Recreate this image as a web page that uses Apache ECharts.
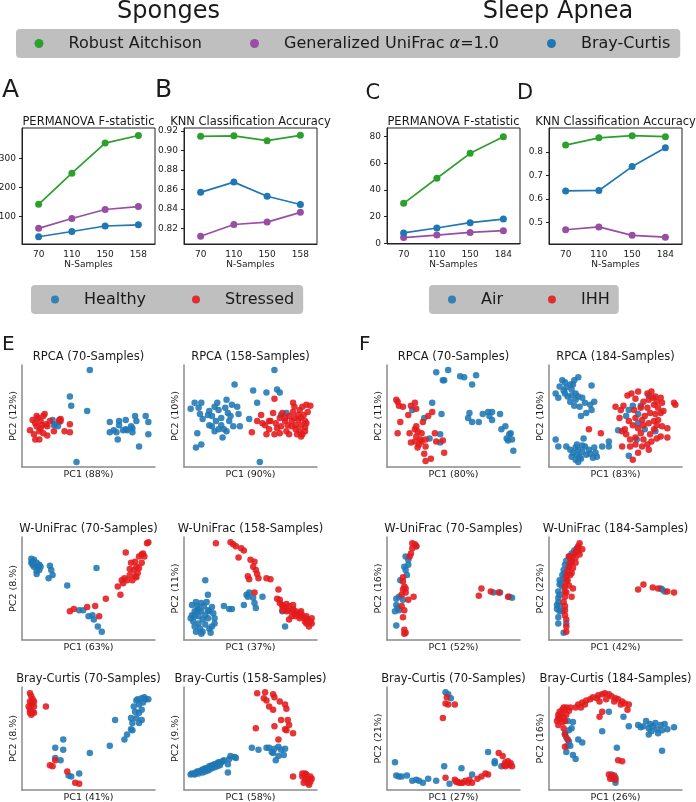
<!DOCTYPE html>
<html>
<head>
<meta charset="utf-8">
<title>Sponges / Sleep Apnea - RPCA comparison</title>
<script src="https://cdn.jsdelivr.net/npm/echarts@6.0.0/dist/echarts.min.js"></script>
<style>
  html, body { margin: 0; padding: 0; background: #fff; }
  #chart { width: 696px; height: 802px; }
</style>
</head>
<body>
<div id="chart"></div>
<script>
// ------------------------------
// Data
// ------------------------------

var metricNames = ["Robust Aitchison", "Generalized UniFrac α=1.0", "Bray-Curtis"];

// Sponges (A, B)
var nSponges = ["70", "110", "150", "158"];
var permSpongesRA = [143, 250, 354, 380];
var permSpongesGU = [60, 94, 125, 135];
var permSpongesBC = [31, 49, 68, 72];
var knnSpongesRA = [0.9145, 0.915, 0.910, 0.9155];
var knnSpongesGU = [0.812, 0.824, 0.8265, 0.8365];
var knnSpongesBC = [0.857, 0.8675, 0.853, 0.8445];

// Sleep apnea (C, D)
var nApnea = ["70", "110", "150", "184"];
var permApneaRA = [30, 48.8, 67.5, 80];
var permApneaGU = [4.3, 6.2, 8.2, 9.5];
var permApneaBC = [7.8, 11.5, 15.5, 18.2];
var knnApneaRA = [0.83, 0.861, 0.87, 0.866];
var knnApneaGU = [0.468, 0.48, 0.444, 0.436];
var knnApneaBC = [0.634, 0.636, 0.738, 0.819];

// tick labels
var permSpongesTicks = [100, 200, 300];
var knnSpongesTicks = [0.82, 0.84, 0.86, 0.88, 0.90, 0.92];
var permApneaTicks = [0, 20, 40, 60, 80];
var knnApneaTicks = [0.5, 0.6, 0.7, 0.8];

// ordination scores (arbitrary units)
var spRpca70Healthy = [[51,95],[36,69],[37,60],[49,55],[41,5],[23,46],[25,42],[24,41],[27,40],[28,44],[66,44],[73,45],[78,46],[85,50],[93,50],[95,44],[66,34],[71,34],[72,27],[76,36],[78,37],[82,40],[83,38],[83,34],[86,45],[88,20],[95,32],[73,41],[79,36],[69,36]];
var spRpca70Stressed = [[6,36],[8,46],[10,43],[10,27],[11,40],[12,48],[13,35],[13,27],[14,45],[14,38],[15,41],[16,50],[16,33],[17,52],[18,42],[19,31],[19,40],[21,45],[24,35],[28,46],[29,45],[32,35],[36,42],[36,34],[9,32],[11,50],[29,47]];

var spRpca158Healthy = [[68,95],[38,81],[52,75],[62,73],[70,76],[72,73],[55,63],[49,47],[5,57],[8,63],[13,63],[11,58],[12,52],[14,47],[10,33],[9,19],[13,22],[18,51],[19,55],[21,40],[23,59],[25,63],[26,56],[28,48],[29,29],[30,37],[32,66],[33,53],[34,45],[37,40],[41,52],[42,40],[36,61],[24,45],[21,50],[31,58],[40,59],[26,37],[19,41],[23,35],[32,35],[35,50],[28,41],[57,5],[77,53],[73,51]];
var spRpca158Stressed = [[51,34],[58,51],[61,41],[62,32],[64,37],[65,45],[67,53],[68,67],[69,43],[70,38],[72,48],[73,40],[74,53],[76,45],[77,35],[78,41],[79,50],[81,40],[82,63],[82,54],[83,48],[84,37],[85,32],[86,46],[87,56],[88,41],[89,32],[89,59],[90,51],[91,45],[91,39],[92,61],[93,54],[95,60],[91,35],[87,35],[68,32],[72,33],[64,45],[76,48],[81,45],[86,51],[88,48],[84,41],[92,43],[79,32],[88,30],[83,59],[55,45],[59,43]];

var apRpca70Air = [[37,93],[46,95],[42,85],[43,85],[55,89],[58,88],[67,90],[64,81],[34,63],[19,56],[41,52],[28,48],[32,28],[40,32],[40,24],[62,53],[61,48],[64,44],[69,44],[72,52],[76,54],[79,54],[77,50],[79,46],[85,52],[86,37],[89,40],[92,32],[94,27],[95,16],[90,28],[91,26],[93,33]];
var apRpca70Ihh = [[7,66],[8,64],[9,60],[12,59],[16,51],[18,60],[21,63],[22,57],[34,54],[10,44],[31,50],[8,33],[17,33],[18,24],[21,37],[22,30],[23,35],[24,22],[25,27],[26,33],[23,19],[29,27],[29,20],[28,13],[29,6],[33,8],[36,33],[37,25],[42,26],[43,14],[21,25],[26,25],[22,40],[27,44]];

var apRpca184Air = [[22,88],[19,85],[10,85],[12,83],[16,81],[18,81],[8,79],[13,78],[17,76],[20,72],[12,72],[5,72],[7,68],[14,69],[17,70],[22,69],[25,68],[20,66],[16,64],[19,60],[23,59],[27,63],[32,80],[34,64],[31,61],[32,56],[28,53],[24,50],[11,75],[5,27],[7,20],[13,20],[16,17],[17,10],[20,7],[22,5],[23,10],[25,15],[26,28],[27,20],[28,12],[30,17],[33,9],[34,19],[35,14],[40,20],[21,22],[18,14],[22,17],[25,21],[21,12],[24,8],[20,19],[31,13],[36,10],[45,25],[45,20],[52,36],[58,50],[63,60],[69,60],[75,70],[67,43],[66,27],[72,37],[80,35],[60,11],[67,52],[60,56]];
var apRpca184Ihh = [[30,37],[39,33],[50,59],[54,56],[56,60],[59,70],[62,72],[67,74],[65,67],[69,58],[71,64],[74,72],[75,66],[77,74],[78,68],[79,61],[80,69],[81,64],[82,58],[84,68],[85,63],[84,53],[86,55],[82,46],[81,41],[85,40],[79,37],[75,43],[72,50],[70,46],[65,48],[63,41],[60,45],[57,37],[58,32],[61,27],[55,20],[61,20],[65,22],[69,33],[71,27],[74,22],[76,32],[77,25],[81,28],[84,30],[89,29],[89,38],[94,63],[95,61],[63,7],[67,14],[55,35],[71,41],[74,58],[80,52],[76,53],[64,56],[67,38],[79,45],[75,17],[53,48],[70,20],[65,29]];

var spUni70Healthy = [[7,79],[8,76],[9,78],[11,75],[12,71],[11,67],[9,71],[13,68],[13,73],[8,73],[11,64],[21,72],[22,68],[23,63],[20,60],[34,53],[56,70],[43,29],[46,29],[50,23],[53,24],[54,20],[57,13],[60,8],[14,71],[7,75]];
var spUni70Stressed = [[36,28],[39,30],[49,32],[55,33],[58,23],[63,40],[72,52],[74,44],[75,58],[77,60],[78,85],[79,58],[81,63],[82,75],[83,58],[84,68],[85,62],[85,76],[86,71],[87,65],[88,81],[88,70],[90,75],[90,83],[91,84],[92,81],[94,94],[95,95],[76,55],[81,69],[86,61]];

var spUni158Healthy = [[16,58],[18,44],[6,34],[8,28],[9,37],[10,33],[11,23],[11,16],[12,11],[13,36],[13,28],[14,20],[14,8],[15,33],[16,24],[16,15],[17,37],[18,29],[18,21],[19,11],[20,7],[21,32],[22,26],[23,16],[23,21],[6,24],[7,18],[8,13],[9,8],[10,28],[8,23],[11,30],[19,28],[21,13],[13,6],[5,21],[30,33],[34,30],[36,30],[45,34],[47,44],[48,42],[52,41],[53,36],[54,31],[59,42],[49,46],[76,13],[74,28]];
var spUni158Stressed = [[24,94],[35,95],[37,93],[39,91],[43,89],[41,80],[45,87],[50,78],[53,76],[52,71],[54,68],[48,62],[49,59],[55,64],[56,60],[62,60],[65,59],[53,46],[71,49],[70,40],[72,36],[74,34],[74,33],[76,31],[77,35],[78,29],[79,33],[81,28],[82,30],[83,26],[84,28],[86,24],[87,26],[88,23],[89,24],[91,21],[92,23],[93,20],[95,18],[96,16],[94,13],[91,18],[87,21],[84,23],[81,23],[79,20],[88,28],[77,28],[74,29],[82,34],[92,16],[96,21],[72,39]];

var apUni70Air = [[22,91],[14,81],[16,78],[13,71],[14,68],[15,63],[10,58],[9,42],[7,40],[7,34],[8,31],[6,28],[9,29],[7,14],[80,46],[85,46],[92,42],[94,41],[16,73],[12,39]];
var apUni70Ihh = [[19,94],[21,93],[22,91],[19,89],[18,84],[17,81],[12,61],[13,52],[12,49],[14,50],[11,44],[16,39],[20,42],[11,33],[13,29],[12,22],[13,10],[14,7],[13,6],[71,50],[69,43],[78,47],[84,46],[91,42],[14,46],[12,57]];

var apUni184Air = [[11,7],[7,16],[7,22],[8,28],[6,34],[7,41],[7,47],[8,54],[8,58],[10,63],[11,68],[12,73],[13,77],[15,81],[17,84],[19,87],[21,89],[7,37],[8,44],[10,52],[11,60],[9,55],[12,65],[6,30],[8,33],[15,71],[17,78],[85,49],[87,47],[84,50],[13,16],[10,28]];
var apUni184Ihh = [[23,94],[22,91],[21,88],[20,85],[18,82],[17,76],[16,75],[15,71],[14,67],[13,62],[13,57],[12,52],[12,47],[12,42],[11,37],[12,33],[12,24],[13,20],[13,8],[15,53],[18,50],[17,42],[14,58],[16,63],[20,80],[22,86],[13,46],[12,29],[67,49],[71,54],[78,51],[82,50],[89,47],[94,46],[16,81],[13,13],[25,88],[23,83],[20,75],[18,70],[17,65],[15,81]];

var spBc70Healthy = [[31,49],[25,41],[31,39],[25,31],[29,29],[35,14],[37,13],[43,16],[51,36],[66,43],[70,68],[77,49],[79,54],[82,59],[83,65],[82,70],[86,70],[88,75],[85,76],[90,78],[84,81],[88,83],[86,87],[87,88],[90,89],[92,90],[93,88],[95,88],[91,85],[88,65],[90,68],[83,58]];
var spBc70Stressed = [[6,94],[7,91],[8,88],[6,86],[8,84],[7,83],[5,81],[9,81],[6,78],[8,76],[9,75],[6,75],[7,73],[9,86],[18,81],[21,24],[23,23],[25,29],[34,18],[40,7],[43,6]];

var spBc158Healthy = [[51,41],[56,39],[62,41],[64,41],[66,37],[67,36],[71,42],[73,39],[76,40],[68,40],[75,34],[69,29],[71,33],[5,15],[6,16],[8,16],[9,17],[10,18],[11,18],[13,19],[14,20],[15,20],[16,21],[18,21],[19,23],[20,23],[21,24],[23,25],[24,25],[25,26],[26,27],[28,27],[29,28],[30,29],[34,30],[35,33],[38,32],[39,31],[33,17],[33,25],[11,16],[14,17],[16,18],[19,20],[23,22],[8,15],[21,21],[27,24],[18,19],[25,23]];
var spBc158Stressed = [[55,94],[61,95],[67,93],[68,90],[60,89],[62,87],[72,86],[76,83],[64,81],[67,78],[77,79],[73,68],[78,68],[68,62],[54,60],[76,59],[77,58],[82,55],[79,63],[71,49],[82,13],[89,16],[89,13],[91,10],[92,15],[93,11],[95,8],[93,7],[95,13],[91,16],[96,11],[94,5],[90,7]];

var apBc70Air = [[44,95],[46,93],[48,89],[6,27],[7,14],[9,13],[11,13],[15,14],[19,9],[22,10],[24,9],[27,7],[31,11],[37,9],[43,23],[47,6],[56,21],[64,15],[76,37],[81,26],[86,23],[81,28]];
var apBc70Ihh = [[45,90],[44,84],[46,83],[51,83],[42,70],[44,12],[51,10],[53,8],[54,7],[57,7],[59,9],[61,7],[62,10],[64,7],[68,11],[71,13],[74,16],[76,15],[84,36],[87,33],[89,27],[91,25],[92,24],[93,26],[89,23],[91,28],[94,23],[88,24],[56,7],[52,8]];

var apBc184Air = [[14,67],[18,66],[17,60],[15,58],[13,51],[15,47],[16,43],[14,43],[13,37],[18,34],[20,30],[22,49],[25,46],[40,57],[45,76],[51,41],[56,71],[60,62],[67,63],[69,61],[71,62],[73,67],[75,60],[76,64],[77,57],[78,62],[80,65],[81,59],[82,55],[84,63],[85,58],[87,64],[89,59],[94,61],[85,38],[75,54],[47,15],[48,11],[50,7],[50,12],[12,55]];
var apBc184Ihh = [[6,67],[7,70],[7,73],[8,76],[10,78],[11,80],[12,78],[13,80],[15,77],[16,80],[9,73],[11,71],[13,73],[8,69],[7,63],[10,66],[12,67],[11,60],[12,54],[12,42],[14,49],[20,80],[22,83],[25,85],[28,87],[31,88],[33,90],[36,89],[37,92],[40,93],[42,94],[45,93],[47,91],[50,89],[52,88],[55,86],[57,84],[60,83],[38,86],[43,88],[49,86],[54,83],[59,78],[40,76],[38,71],[24,80],[27,83],[55,28],[52,29],[45,15],[47,13],[49,14],[50,10],[46,11]];

// ------------------------------
// Setup
// ------------------------------

var FONT = "DejaVu Sans";
var GREEN = "#2ca02c";
var PURPLE = "#984ea3";
var BLUE = "#1f77b4";
var RED = "#e41a1c";
var TEXT = "#1a1a1a";

var colLeft = [22, 184, 387, 549];
var colWidth = 133;
var rowTop = [365, 537, 687];
var rowHeight = [102, 103, 103];

var titles = [];
var grids = [];
var xAxes = [];
var yAxes = [];
var series = [];

function addText(text, x, y, size, align) {
  titles.push({
    text: text,
    left: x,
    top: y,
    padding: 0,
    textAlign: align || "center",
    textVerticalAlign: "top",
    textStyle: { fontFamily: FONT, fontSize: size, fontWeight: "normal", color: TEXT, lineHeight: size }
  });
}

// line panels A-D
function addLinePanel(col, title, cats, yMin, yMax, ticks, digits, values) {
  var idx = grids.length;
  grids.push({ left: colLeft[col], top: 128, width: colWidth, height: 116, show: true, borderColor: "#222", borderWidth: 1, outerBoundsMode: "none" });
  xAxes.push({
    gridIndex: idx, type: "category", data: cats, boundaryGap: true,
    name: "N-Samples", nameLocation: "middle", nameGap: 16,
    nameTextStyle: { fontFamily: FONT, fontSize: 9, color: TEXT },
    axisLine: { lineStyle: { color: "#222", width: 1 } },
    axisTick: { alignWithLabel: true, length: 3, lineStyle: { color: "#222" } },
    axisLabel: { interval: 0, margin: 6, fontFamily: FONT, fontSize: 9, color: TEXT },
    splitLine: { show: false }
  });
  yAxes.push({
    gridIndex: idx, type: "value", min: yMin, max: yMax,
    axisLine: { show: true, lineStyle: { color: "#222", width: 1 } },
    axisTick: { show: true, length: 3, customValues: ticks, lineStyle: { color: "#222" } },
    axisLabel: {
      customValues: ticks, margin: 6, fontFamily: FONT, fontSize: 9, color: TEXT,
      formatter: function (v) { return v.toFixed(digits); }
    },
    splitLine: { show: false }
  });
  addText(title, colLeft[col] + colWidth / 2, 116, 11.5);
  var colors = [GREEN, PURPLE, BLUE];
  for (var m = 0; m < 3; m++) {
    series.push({
      type: "line", name: metricNames[m], xAxisIndex: idx, yAxisIndex: idx,
      data: values[m], color: colors[m],
      symbol: "circle", symbolSize: 7, showSymbol: true,
      lineStyle: { width: 1.7, color: colors[m] },
      itemStyle: { color: colors[m] }
    });
  }
}

addLinePanel(0, "PERMANOVA F-statistic", nSponges, 6, 406, permSpongesTicks, 0, [permSpongesRA, permSpongesGU, permSpongesBC]);
addLinePanel(1, "KNN Classification Accuracy", nSponges, 0.804, 0.923, knnSpongesTicks, 2, [knnSpongesRA, knnSpongesGU, knnSpongesBC]);
addLinePanel(2, "PERMANOVA F-statistic", nApnea, -0.5, 86.5, permApneaTicks, 0, [permApneaRA, permApneaGU, permApneaBC]);
addLinePanel(3, "KNN Classification Accuracy", nApnea, 0.407, 0.903, knnApneaTicks, 1, [knnApneaRA, knnApneaGU, knnApneaBC]);

// scatter panels E, F
var scatterPanels = [
  { row: 0, col: 0, title: "RPCA (70-Samples)", pc1: "PC1 (88%)", pc2: "PC2 (12%)", names: ["Healthy", "Stressed"], a: spRpca70Healthy, b: spRpca70Stressed },
  { row: 0, col: 1, title: "RPCA (158-Samples)", pc1: "PC1 (90%)", pc2: "PC2 (10%)", names: ["Healthy", "Stressed"], a: spRpca158Healthy, b: spRpca158Stressed },
  { row: 0, col: 2, title: "RPCA (70-Samples)", pc1: "PC1 (80%)", pc2: "PC2 (11%)", names: ["Air", "IHH"], a: apRpca70Air, b: apRpca70Ihh },
  { row: 0, col: 3, title: "RPCA (184-Samples)", pc1: "PC1 (83%)", pc2: "PC2 (10%)", names: ["Air", "IHH"], a: apRpca184Air, b: apRpca184Ihh },
  { row: 1, col: 0, title: "W-UniFrac (70-Samples)", pc1: "PC1 (63%)", pc2: "PC2 (8.%)", names: ["Healthy", "Stressed"], a: spUni70Healthy, b: spUni70Stressed },
  { row: 1, col: 1, title: "W-UniFrac (158-Samples)", pc1: "PC1 (37%)", pc2: "PC2 (11%)", names: ["Healthy", "Stressed"], a: spUni158Healthy, b: spUni158Stressed },
  { row: 1, col: 2, title: "W-UniFrac (70-Samples)", pc1: "PC1 (52%)", pc2: "PC2 (16%)", names: ["Air", "IHH"], a: apUni70Air, b: apUni70Ihh },
  { row: 1, col: 3, title: "W-UniFrac (184-Samples)", pc1: "PC1 (42%)", pc2: "PC2 (22%)", names: ["Air", "IHH"], a: apUni184Air, b: apUni184Ihh },
  { row: 2, col: 0, title: "Bray-Curtis (70-Samples)", pc1: "PC1 (41%)", pc2: "PC2 (8.%)", names: ["Healthy", "Stressed"], a: spBc70Healthy, b: spBc70Stressed },
  { row: 2, col: 1, title: "Bray-Curtis (158-Samples)", pc1: "PC1 (58%)", pc2: "PC2 (9.%)", names: ["Healthy", "Stressed"], a: spBc158Healthy, b: spBc158Stressed },
  { row: 2, col: 2, title: "Bray-Curtis (70-Samples)", pc1: "PC1 (27%)", pc2: "PC2 (21%)", names: ["Air", "IHH"], a: apBc70Air, b: apBc70Ihh },
  { row: 2, col: 3, title: "Bray-Curtis (184-Samples)", pc1: "PC1 (26%)", pc2: "PC2 (16%)", names: ["Air", "IHH"], a: apBc184Air, b: apBc184Ihh }
];

var titleTop = [351, 523.5, 673];

scatterPanels.forEach(function (p) {
  var idx = grids.length;
  grids.push({ left: colLeft[p.col], top: rowTop[p.row], width: colWidth, height: rowHeight[p.row], outerBoundsMode: "none" });
  var spine = { show: true, onZero: false, lineStyle: { color: "#8a8a8a", width: 1.5 } };
  var nameStyle = { fontFamily: FONT, fontSize: 9.5, color: TEXT };
  xAxes.push({
    gridIndex: idx, type: "value", min: 0, max: 100,
    name: p.pc1, nameLocation: "middle", nameGap: 3, nameTextStyle: nameStyle,
    axisLine: spine, axisTick: { show: false }, axisLabel: { show: false }, splitLine: { show: false }
  });
  yAxes.push({
    gridIndex: idx, type: "value", min: 0, max: 100,
    name: p.pc2, nameLocation: "middle", nameGap: 3, nameTextStyle: nameStyle,
    axisLine: spine, axisTick: { show: false }, axisLabel: { show: false }, splitLine: { show: false }
  });
  addText(p.title, colLeft[p.col] + colWidth / 2, titleTop[p.row], 11.5);
  [[p.names[0], p.a, BLUE], [p.names[1], p.b, RED]].forEach(function (s) {
    series.push({
      type: "scatter", name: s[0], xAxisIndex: idx, yAxisIndex: idx,
      data: s[1], symbolSize: 6.5, color: s[2],
      itemStyle: { color: s[2], opacity: 0.88 }
    });
  });
});

// headings and panel letters
addText("Sponges", 168.5, 0, 24);
addText("Sleep Apnea", 558, 0, 24);
addText("A", 2, 78, 25, "left");
addText("B", 155, 78, 25, "left");
addText("C", 365.5, 83.5, 21, "left");
addText("D", 517, 83.5, 21, "left");
addText("E", 2, 335, 20, "left");
addText("F", 359, 335, 20, "left");

function legendBox(data, left, top, gap, pad, size) {
  return {
    data: data, left: left, top: top, orient: "horizontal",
    icon: "circle", itemWidth: size, itemHeight: size, itemGap: gap,
    padding: pad, backgroundColor: "#bfbfbf", borderRadius: 4,
    selectedMode: false,
    formatter: function (name) { return name.replace("α", "{a|α}"); },
    textStyle: {
      fontFamily: FONT, fontSize: 16, color: TEXT, lineHeight: 17, padding: [0, 0, 0, 20],
      rich: { a: { fontFamily: FONT, fontSize: 16, fontStyle: "italic", color: TEXT, lineHeight: 17 } }
    }
  };
}

var chart = echarts.init(document.getElementById("chart"), null, { renderer: "canvas" });
chart.setOption({
  animation: false,
  backgroundColor: "#ffffff",
  textStyle: { fontFamily: FONT },
  title: titles,
  legend: [
    legendBox(metricNames, 16, 29, 48, [6, 10, 6, 18.5], 9),
    legendBox(["Healthy", "Stressed"], 31, 285, 46, [6, 9, 6, 20], 8),
    legendBox(["Air", "IHH"], 429, 285, 45, [6, 9, 6, 19], 8)
  ],
  grid: grids,
  xAxis: xAxes,
  yAxis: yAxes,
  series: series
});

window.addEventListener("resize", function () {
  chart.resize();
});
</script>
</body>
</html>
